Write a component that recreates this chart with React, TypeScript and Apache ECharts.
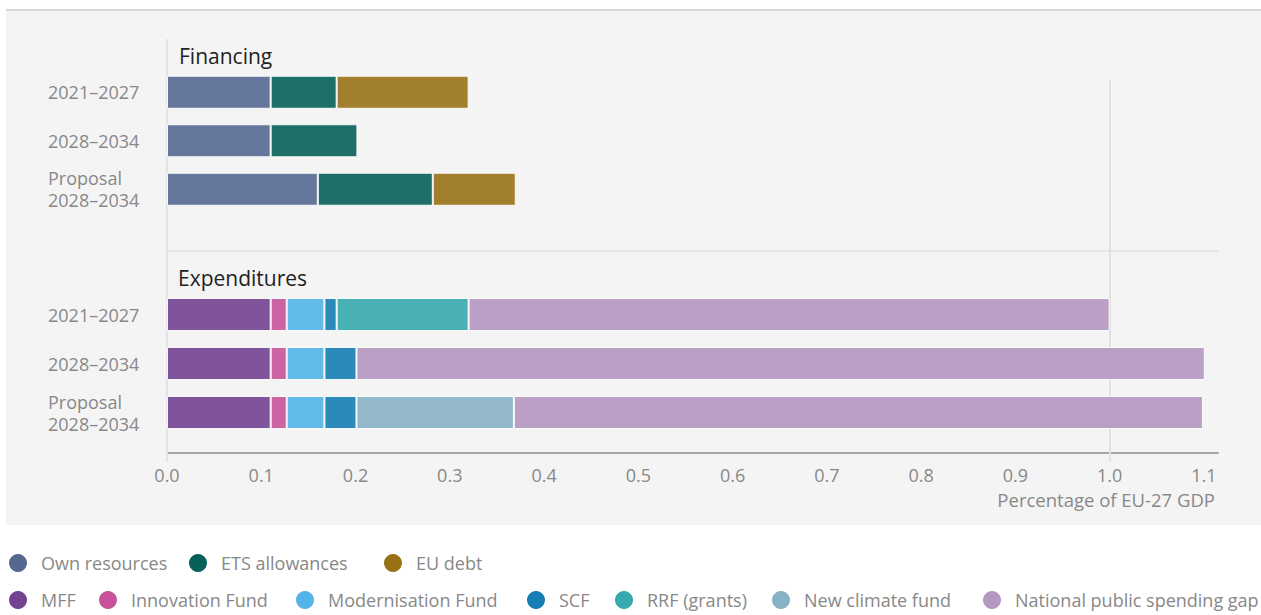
import React, { useEffect, useRef } from "react";
import * as echarts from "echarts";

const categories = ["2021–2027", "2028–2034", "Proposal\n2028–2034"];

// Financing (% of EU-27 GDP), stacked segments
const ownResources = [0.11, 0.11, 0.16];
const etsAllowances = [0.07, 0.092, 0.122];
const euDebt = [0.14, null, 0.088];

// Expenditures (% of EU-27 GDP), stacked segments
const mff = [0.11, 0.11, 0.11];
const innovationFund = [0.017, 0.017, 0.017];
const modernisationFund = [0.04, 0.04, 0.04];
const scf = [0.013, 0.034, 0.034];
const rrfGrants = [0.14, null, null];
const newClimateFund = [null, null, 0.167];
const nationalGap = [0.68, 0.9, 0.731];

const xTicks = { min: 0, max: 1.115, interval: 0.1 };
const referenceLine = 1.0;

const FONT = "Open Sans";
const GREY = "#888888";

const finSeries = [
  { name: "Own resources", data: ownResources, color: "#556990" },
  { name: "ETS allowances", data: etsAllowances, color: "#066058" },
  { name: "EU debt", data: euDebt, color: "#997216" },
];
const expSeries = [
  { name: "MFF", data: mff, color: "#734391" },
  { name: "Innovation Fund", data: innovationFund, color: "#c8539a" },
  { name: "Modernisation Fund", data: modernisationFund, color: "#52b4e7" },
  { name: "SCF", data: scf, color: "#157eb4" },
  { name: "RRF (grants)", data: rrfGrants, color: "#36a9ae" },
  { name: "New climate fund", data: newClimateFund, color: "#88b1c5" },
  { name: "National public spending gap", data: nationalGap, color: "#b597c0" },
];

// legend layout: left edge of each legend item (row 1 / row 2)
const legendRow1Left = [9, 189, 384];
const legendRow2Left = [9, 99, 296, 527, 615, 772, 983];

export default function App() {
  const ref = useRef<HTMLDivElement>(null);
  useEffect(() => {
    if (!ref.current) return;
    const chart = echarts.init(ref.current, null, { renderer: "svg" });

    const barSeries = (s: any, stack: string, idx: number) => ({
      type: "bar",
      name: s.name,
      data: s.data,
      stack,
      xAxisIndex: idx,
      yAxisIndex: idx,
      barWidth: 33,
      z: 3,
      itemStyle: { color: s.color, opacity: 0.9, borderColor: "#ffffff", borderWidth: 1 },
      emphasis: { disabled: true },
    });

    const valueAxisBase = {
      type: "value",
      min: xTicks.min,
      max: xTicks.max,
      interval: xTicks.interval,
      splitLine: { show: false },
      axisTick: { show: false },
    };

    const catAxis = (idx: number) => ({
      type: "category",
      gridIndex: idx,
      data: categories,
      inverse: true,
      axisLine: { show: false },
      axisTick: { show: false },
      axisLabel: {
        align: "left",
        margin: 119,
        color: GREY,
        fontSize: 18,
        lineHeight: 22,
        fontFamily: FONT,
      },
    });

    const legendItem = (s: any, left: number, top: number) => ({
      data: [{ name: s.name, itemStyle: { color: s.color, opacity: 1, borderWidth: 0 } }],
      left,
      top,
      padding: 0,
      icon: "circle",
      itemWidth: 36,
      itemHeight: 18,
      textStyle: { color: GREY, fontSize: 18, fontFamily: FONT },
      selectedMode: false,
    });

    const gridBase = { left: 167, width: 1051, outerBoundsMode: "none", containLabel: false };

    const option: any = {
      animation: false,
      textStyle: { fontFamily: FONT },
      title: [
        {
          text: "Financing",
          left: 179,
          top: 45,
          padding: 0,
          textStyle: { fontSize: 21, fontWeight: "normal", color: "#222222", fontFamily: FONT },
        },
        {
          text: "Expenditures",
          left: 178,
          top: 267,
          padding: 0,
          textStyle: { fontSize: 21, fontWeight: "normal", color: "#222222", fontFamily: FONT },
        },
      ],
      legend: [
        ...finSeries.map((s, i) => legendItem(s, legendRow1Left[i], 554)),
        ...expSeries.map((s, i) => legendItem(s, legendRow2Left[i], 591)),
      ],
      grid: [
        { ...gridBase, top: 68, height: 145.5 },
        { ...gridBase, top: 290, height: 147 },
        { ...gridBase, top: 80, height: 382 },
        { ...gridBase, top: 39, height: 423 },
      ],
      xAxis: [
        {
          ...valueAxisBase,
          gridIndex: 0,
          offset: 37,
          axisLine: { show: true, lineStyle: { color: "#e6e6e6", width: 2 } },
          axisLabel: { show: false },
        },
        {
          ...valueAxisBase,
          gridIndex: 1,
          offset: 16,
          axisLine: { show: true, lineStyle: { color: "#a6a6a6", width: 2 } },
          axisLabel: {
            show: true,
            color: GREY,
            fontSize: 18,
            margin: 13,
            showMaxLabel: false,
            fontFamily: FONT,
            formatter: (v: number) => v.toFixed(1),
          },
          name: "Percentage of EU-27 GDP",
          nameLocation: "end",
          nameGap: -3,
          nameTextStyle: {
            color: GREY,
            fontSize: 18.5,
            align: "right",
            verticalAlign: "top",
            padding: [37, 0, 0, 0],
            fontFamily: FONT,
          },
        },
        { ...valueAxisBase, gridIndex: 2, show: false },
        { ...valueAxisBase, gridIndex: 3, show: false },
      ],
      yAxis: [
        catAxis(0),
        catAxis(1),
        { type: "category", gridIndex: 2, data: [""], show: false },
        { type: "category", gridIndex: 3, data: [""], show: false },
      ],
      series: [
        ...finSeries.map((s) => barSeries(s, "fin", 0)),
        ...expSeries.map((s) => barSeries(s, "exp", 1)),
        {
          type: "bar",
          name: "ref",
          xAxisIndex: 2,
          yAxisIndex: 2,
          data: [],
          silent: true,
          z: 1,
          markLine: {
            silent: true,
            z: 1,
            symbol: ["none", "none"],
            label: { show: false },
            lineStyle: { type: "solid", color: "#e2e2e2", width: 2 },
            data: [{ xAxis: referenceLine }],
          },
        },
        {
          type: "bar",
          name: "axis",
          xAxisIndex: 3,
          yAxisIndex: 3,
          data: [],
          silent: true,
          z: 1,
          markLine: {
            silent: true,
            z: 1,
            symbol: ["none", "none"],
            label: { show: false },
            lineStyle: { type: "solid", color: "#e4e4e4", width: 2 },
            data: [{ xAxis: xTicks.min }],
          },
        },
      ],
    };
    chart.setOption(option);
    return () => chart.dispose();
  }, []);

  return (
    <div style={{ position: "absolute", left: 0, top: 0, width: 1261, height: 615, background: "#ffffff" }}>
      <div
        style={{
          position: "absolute",
          left: 6,
          top: 9,
          width: 1255,
          height: 516,
          background: "#f4f4f4",
          borderTop: "2px solid #d9d9d9",
          boxSizing: "border-box",
        }}
      />
      <div ref={ref} style={{ position: "absolute", left: 0, top: 0, width: 1261, height: 615 }} />
    </div>
  );
}
